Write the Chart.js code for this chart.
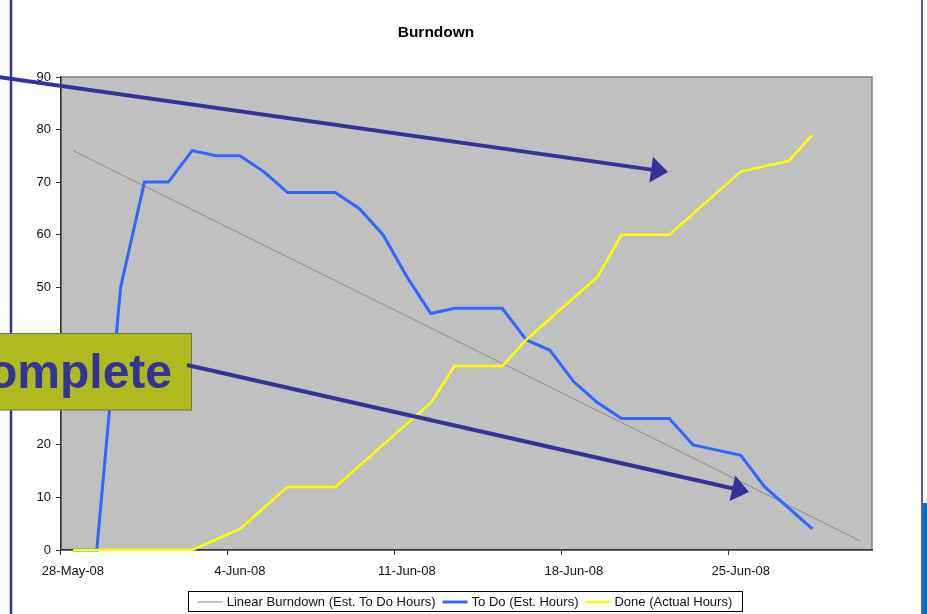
<!DOCTYPE html>
<html>
<head>
<meta charset="utf-8">
<script src="https://cdn.jsdelivr.net/npm/chart.js@4"></script>
<style>
html,body{margin:0;padding:0;background:#fff;overflow:hidden;}
#wrap{position:relative;width:927px;height:614px;}
</style>
</head>
<body>
<div id="wrap"><canvas id="c" width="927" height="614"></canvas></div>
<script>
const categories = ['28-May-08','29-May-08','30-May-08','31-May-08','1-Jun-08','2-Jun-08','3-Jun-08',
  '4-Jun-08','5-Jun-08','6-Jun-08','7-Jun-08','8-Jun-08','9-Jun-08','10-Jun-08',
  '11-Jun-08','12-Jun-08','13-Jun-08','14-Jun-08','15-Jun-08','16-Jun-08','17-Jun-08',
  '18-Jun-08','19-Jun-08','20-Jun-08','21-Jun-08','22-Jun-08','23-Jun-08','24-Jun-08',
  '25-Jun-08','26-Jun-08','27-Jun-08','28-Jun-08','29-Jun-08','30-Jun-08'];
const linearBurndown = [76,73.75,71.5,69.25,67,64.75,62.5,60.25,58,55.75,53.5,51.25,49,46.75,44.5,42.25,40,
  37.75,35.5,33.25,31,28.75,26.5,24.25,22,19.75,17.5,15.25,13,10.75,8.5,6.25,4,1.75];
const toDo = [0,0,50,70,70,76,75,75,72,68,68,68,65,60,52,45,46,46,46,40,38,32,28,25,25,25,20,19,18,12,8,4,null,null];
const done = [0,0,0,0,0,0,2,4,8,12,12,12,16,20,24,28,35,35,35,40,44,48,52,60,60,60,64,68,72,73,74,79,null,null];
const yTicks = [0,10,20,30,40,50,60,70,80,90];
const seriesNames = ['Linear Burndown (Est. To Do Hours)','To Do (Est. Hours)','Done (Actual Hours)'];
const chartTitle = 'Burndown';
const calloutText = 'Complete';

const FONT = '"Liberation Sans", Arial, sans-serif';

const plotBg = {
  id: 'plotBg',
  beforeDraw(chart) {
    const {ctx, chartArea: a} = chart;
    ctx.save();
    ctx.fillStyle = '#c0c0c0';
    ctx.fillRect(a.left, a.top, a.right - a.left, a.bottom - a.top);
    ctx.strokeStyle = '#808080';
    ctx.lineWidth = 1.5;
    ctx.strokeRect(a.left, a.top, a.right - a.left, a.bottom - a.top);
    ctx.restore();
  }
};

const legendBox = {
  id: 'legendBox',
  afterDatasetsDraw(chart) {
    const ctx = chart.ctx;
    ctx.save();
    ctx.font = '13px ' + FONT;
    const sw = 25, gap = 4, itemGap = 7, pad = 10;
    const ds = chart.data.datasets;
    let total = 0;
    ds.forEach((d, i) => { total += sw + gap + ctx.measureText(d.label).width + (i < ds.length - 1 ? itemGap : 0); });
    const boxW = total + pad * 2;
    const cx = 465;
    const left = cx - boxW / 2, top = 591, h = 20;
    ctx.fillStyle = '#fff';
    ctx.fillRect(left, top, boxW, h);
    ctx.strokeStyle = '#000';
    ctx.lineWidth = 1;
    ctx.strokeRect(Math.round(left) + 0.5, top + 0.5, Math.round(boxW), h);
    let x = left + pad;
    const y = top + h / 2 + 1;
    ds.forEach((d) => {
      ctx.strokeStyle = d.borderColor;
      ctx.lineWidth = d.borderWidth;
      ctx.beginPath();
      ctx.moveTo(x, y); ctx.lineTo(x + sw, y);
      ctx.stroke();
      x += sw + gap;
      ctx.fillStyle = '#111';
      ctx.textBaseline = 'middle';
      ctx.textAlign = 'left';
      ctx.fillText(d.label, x, y);
      x += ctx.measureText(d.label).width + itemGap;
    });
    ctx.restore();
  }
};

function arrow(ctx, x0, y0, x1, y1, color, w, hl, hw) {
  const ang = Math.atan2(y1 - y0, x1 - x0);
  const bx = x1 - hl * Math.cos(ang), by = y1 - hl * Math.sin(ang);
  ctx.strokeStyle = color;
  ctx.lineWidth = w;
  ctx.beginPath();
  ctx.moveTo(x0, y0); ctx.lineTo(bx + 2 * Math.cos(ang), by + 2 * Math.sin(ang));
  ctx.stroke();
  ctx.fillStyle = color;
  ctx.beginPath();
  ctx.moveTo(x1, y1);
  ctx.lineTo(bx - hw * Math.sin(ang), by + hw * Math.cos(ang));
  ctx.lineTo(bx + hw * Math.sin(ang), by - hw * Math.cos(ang));
  ctx.closePath();
  ctx.fill();
}

const overlay = {
  id: 'overlay',
  afterDraw(chart) {
    const ctx = chart.ctx;
    ctx.save();
    ctx.strokeStyle = '#33339f';
    ctx.lineWidth = 2.5;
    ctx.beginPath(); ctx.moveTo(11, 0); ctx.lineTo(11, 614); ctx.stroke();
    ctx.strokeStyle = '#5a5ab8';
    ctx.lineWidth = 2;
    ctx.beginPath(); ctx.moveTo(922, 0); ctx.lineTo(922, 614); ctx.stroke();
    ctx.fillStyle = '#0070c0';
    ctx.fillRect(923, 503, 4, 111);
    ctx.fillStyle = '#afba1f';
    ctx.fillRect(-2, 333, 194, 77);
    ctx.strokeStyle = '#6f7250';
    ctx.lineWidth = 1;
    ctx.strokeRect(-2, 333.5, 193.5, 76.5);
    ctx.fillStyle = '#333399';
    ctx.font = 'bold 48px ' + FONT;
    ctx.textAlign = 'right';
    ctx.textBaseline = 'alphabetic';
    ctx.fillText(calloutText, 172, 388);
    arrow(ctx, -2, 77, 668, 172, '#333399', 4, 17, 13);
    arrow(ctx, 187, 365, 749, 492, '#333399', 4, 17, 13);
    ctx.restore();
  }
};

new Chart(document.getElementById('c'), {
  type: 'line',
  data: {
    labels: categories,
    datasets: [
      {label: seriesNames[0], data: linearBurndown, borderColor: '#8a8a8a', borderWidth: 1, order: 3, clip: false},
      {label: seriesNames[1], data: toDo, borderColor: '#3366ff', borderWidth: 3, order: 2, clip: false},
      {label: seriesNames[2], data: done, borderColor: '#ffff00', borderWidth: 2.5, order: 1, clip: false}
    ]
  },
  options: {
    responsive: false,
    animation: false,
    events: [],
    layout: {padding: {top: 0, left: 0, right: 55, bottom: 34}},
    elements: {point: {radius: 0}, line: {tension: 0, fill: false}},
    plugins: {
      legend: {display: false},
      tooltip: {enabled: false},
      title: {
        display: true, text: chartTitle, color: '#000',
        font: {family: FONT, size: 15.5, weight: 'bold'},
        padding: {top: 23, bottom: 35.4}
      }
    },
    scales: {
      x: {
        offset: true,
        afterFit: (s) => { s.height = 30; },
        border: {display: true, color: '#333', width: 1.5, z: -1},
        grid: {
          offset: true, drawOnChartArea: false, drawTicks: true, tickLength: 5,
          tickColor: (c) => (c.index % 7 === 0 ? '#333' : 'rgba(0,0,0,0)')
        },
        ticks: {
          autoSkip: false, maxRotation: 0, minRotation: 0, padding: 9, color: '#111',
          font: {family: FONT, size: 13},
          callback: function (v, i) { return i % 7 === 0 ? this.getLabelForValue(v) : ''; }
        }
      },
      y: {
        min: 0, max: 90,
        afterFit: (s) => { s.width = 61; },
        afterBuildTicks: (s) => { s.ticks = yTicks.map(v => ({value: v})); },
        border: {display: true, color: '#333', width: 1.5},
        grid: {drawOnChartArea: false, drawTicks: true, tickLength: 5, tickColor: '#333'},
        ticks: {padding: 5, color: '#111', font: {family: FONT, size: 13}}
      }
    }
  },
  plugins: [plotBg, legendBox, overlay]
});
</script>
</body>
</html>
